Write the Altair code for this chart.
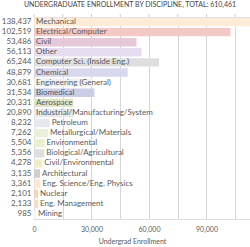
import altair as alt
import pandas as pd

categories = ["Mechanical", "Electrical/Computer", "Civil", "Other", "Computer Sci. (Inside Eng.)",
              "Chemical", "Engineering (General)", "Biomedical", "Aerospace",
              "Industrial/Manufacturing/System", "Petroleum", "Metallurgical/Materials",
              "Environmental", "Biological/Agricultural", "Civil/Environmental", "Architectural",
              "Eng. Science/Eng. Physics", "Nuclear", "Eng. Management", "Mining"]
values = [138437, 102519, 53486, 56113, 65244, 48879, 30681, 31534, 20331, 20890,
          8232, 7262, 5504, 5356, 4278, 3135, 3361, 2101, 2133, 985]
colors = ["#fdecd8", "#f2c9c5", "#e7c8d9", "#e6dcef", "#dedede", "#d7d7ee", "#f1f1f1",
          "#cbcde5", "#dfe6c7", "#e8e8e8", "#e5e9ed", "#e9efd8", "#e9efd1", "#dfdfdf",
          "#f0ecce", "#d2cdcd", "#fbe7d5", "#f7d5b2", "#f8ddc3", "#f3f3f3"]
grid_values = [0, 15000, 30000, 45000, 60000, 75000, 90000, 105000]

vlabels = [f"{v:,}" for v in values]
df = pd.DataFrame({"cat": categories, "value": values, "vlabel": vlabels, "color": colors})
gdf = pd.DataFrame({"g": grid_values})

FONT = "Lato"
TXT = "#5a5a5a"

y = alt.Y("vlabel:N", sort=vlabels,
          scale=alt.Scale(paddingInner=0.17, paddingOuter=0.08),
          axis=alt.Axis(title=None, ticks=False, domain=False, labelPadding=3,
                        labelFont=FONT, labelFontSize=8, labelColor=TXT))

xscale = alt.Scale(domain=[0, 112700], nice=False)
xaxis = alt.Axis(values=grid_values, orient="bottom",
                 labelExpr="datum.value % 30000 == 0 ? format(datum.value, ',') : ''",
                 title="Undergrad Enrollment", titleX=98, titleAnchor="middle",
                 ticks=False, domain=False, labelPadding=6, titlePadding=5,
                 labelFont=FONT, labelFontSize=7, labelColor=TXT,
                 titleFont=FONT, titleFontSize=7, titleFontWeight="normal",
                 titleColor=TXT, gridColor="#d6d6d6", labelFlush=False)

base = alt.Chart(df)

bars = base.mark_bar(clip=True).encode(
    x=alt.X("value:Q", scale=xscale, axis=xaxis),
    y=y,
    color=alt.Color("color:N", scale=None),
)

topticks = alt.Chart(gdf).mark_rule(color="#cccccc").encode(
    x=alt.X("g:Q", scale=xscale, axis=xaxis),
    y=alt.value(-3), y2=alt.value(0),
)

text = base.transform_calculate(
    pos="datum.value < 10000 ? datum.value : 0"
).mark_text(align="left", baseline="middle", dx=2, font=FONT, fontSize=8, color=TXT).encode(
    x=alt.X("pos:Q", scale=xscale, axis=xaxis),
    y=y,
    text="cat:N",
)

chart = alt.layer(bars, topticks, text).properties(
    width=216, height=202,
    title=alt.TitleParams("UNDERGRADUATE ENROLLMENT BY DISCIPLINE, TOTAL: 610,461",
                          font=FONT, fontSize=7, fontWeight="normal", color="#444444",
                          offset=6, dx=-12),
    autosize=alt.AutoSizeParams(type="none"),
    padding={"left": 34, "top": 17, "right": 0, "bottom": 28},
).configure_view(stroke=None).configure(background="white")

chart.save("out.html", embed_options={"renderer": "svg", "actions": False})
